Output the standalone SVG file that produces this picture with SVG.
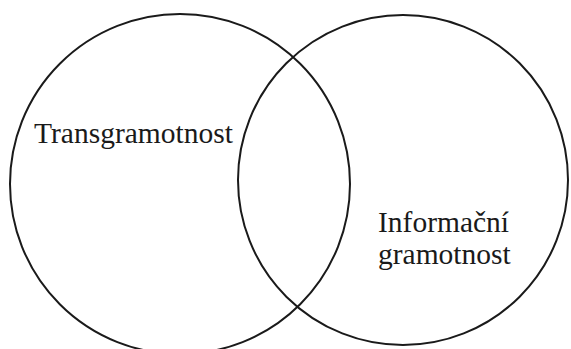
<svg xmlns="http://www.w3.org/2000/svg" width="571" height="349" viewBox="0 0 571 349">
<style>
.c{fill:none;stroke:#1a1a1a;stroke-width:2}
.t{font-family:"Liberation Serif","Times New Roman",serif;font-size:29.5px;fill:#1a1a1a}
</style>
<rect width="571" height="349" fill="#fff"/>
<g id="transgramotnost">
<circle class="c" cx="180" cy="184" r="170"/>
<text class="t" x="34" y="143">Transgramotnost</text>
</g>
<g id="informacni-gramotnost">
<circle class="c" cx="403" cy="180" r="165"/>
<text class="t" x="378" y="232">Informační</text>
<text class="t" x="378" y="264">gramotnost</text>
</g>
<g id="connectors"></g>
</svg>
